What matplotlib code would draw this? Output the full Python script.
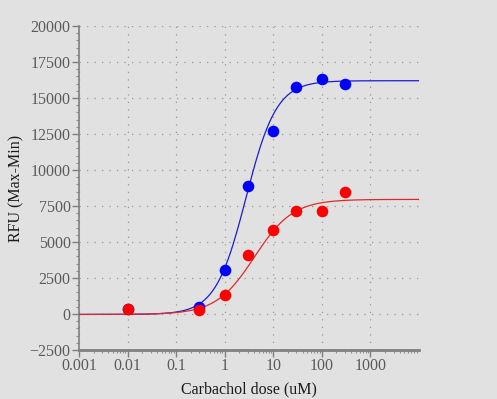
import numpy as np
import matplotlib
matplotlib.use("Agg")
import matplotlib.pyplot as plt
from matplotlib.ticker import FixedLocator, MultipleLocator, LogLocator, NullFormatter

# данные (дозы карбахола, мкМ)
dose = [0.01, 0.3, 1, 3, 10, 30, 100, 300]
blue_rfu = [350, 510, 3030, 8910, 12730, 15790, 16300, 15970]
red_rfu = [330, 280, 1340, 4080, 5810, 7180, 7180, 8450]

# параметры подгонки (4PL): низ, верх, EC50, наклон Хилла
blue_fit = (-30, 16200, 2.75, 1.38)
red_fit = (-30, 7960, 4.1, 1.1)

x_ticks = [0.001, 0.01, 0.1, 1, 10, 100, 1000]
x_labels = ["0.001", "0.01", "0.1", "1", "10", "100", "1000"]
y_ticks = list(range(-2500, 20001, 2500))

BG = "#e1e1e1"
SERIF = ["Liberation Serif", "DejaVu Serif"]


def hill(x, bottom, top, ec50, h):
    return bottom + (top - bottom) / (1 + (ec50 / x) ** h)


fig = plt.figure(figsize=(4.97, 3.99), dpi=100, facecolor=BG)
ax = fig.add_axes([79 / 497, 1 - 350 / 399, 340 / 497, 324 / 399], facecolor=BG)

xs = np.logspace(-3, 4, 400)
ax.plot(xs, hill(xs, *blue_fit), color="#1c1cd6", lw=0.9, zorder=3)
ax.plot(xs, hill(xs, *red_fit), color="#e02a2a", lw=0.9, zorder=3)
ax.scatter(dose, blue_rfu, s=70, color="#0000ff", zorder=4, linewidths=0)
ax.scatter(dose, red_rfu, s=70, color="#ff0000", zorder=5, linewidths=0)

ax.set_xscale("log")
ax.set_xlim(0.001, 10000)
ax.set_ylim(-2500, 20000)

ax.xaxis.set_major_locator(FixedLocator(x_ticks))
ax.set_xticklabels(x_labels)
ax.xaxis.set_minor_locator(LogLocator(base=10, subs=np.arange(2, 10), numticks=20))
ax.xaxis.set_minor_formatter(NullFormatter())
ax.yaxis.set_major_locator(FixedLocator(y_ticks))
ax.yaxis.set_minor_locator(MultipleLocator(500))

# сетка точками
for xv in x_ticks + [10000]:
    ax.axvline(xv, color="#999999", lw=0.9, ls=(0, (1, 5)), zorder=1)
for yv in y_ticks[1:]:
    ax.axhline(yv, color="#999999", lw=0.9, ls=(0, (1, 5)), zorder=1)

for s in ["top", "right"]:
    ax.spines[s].set_visible(False)
ax.spines["left"].set_color("#808080")
ax.spines["bottom"].set_color("#808080")
ax.spines["bottom"].set_linewidth(2)
ax.spines["left"].set_linewidth(1.2)

ax.tick_params(axis="both", which="major", color="#808080", length=5, width=1,
               labelcolor="#5a5a5a", labelsize=11.5, pad=1)
ax.tick_params(axis="both", which="minor", color="#909090", length=2, width=0.8)
for lab in ax.get_xticklabels() + ax.get_yticklabels():
    lab.set_family(SERIF)

ax.set_xlabel("Carbachol dose (uM)", family=SERIF, fontsize=11.5, color="#1a1a1a", labelpad=5)
ax.set_ylabel("RFU (Max-Min)", family=SERIF, fontsize=11.5, color="#1a1a1a", labelpad=4)

fig.savefig("out.png", dpi=100, facecolor=BG)
